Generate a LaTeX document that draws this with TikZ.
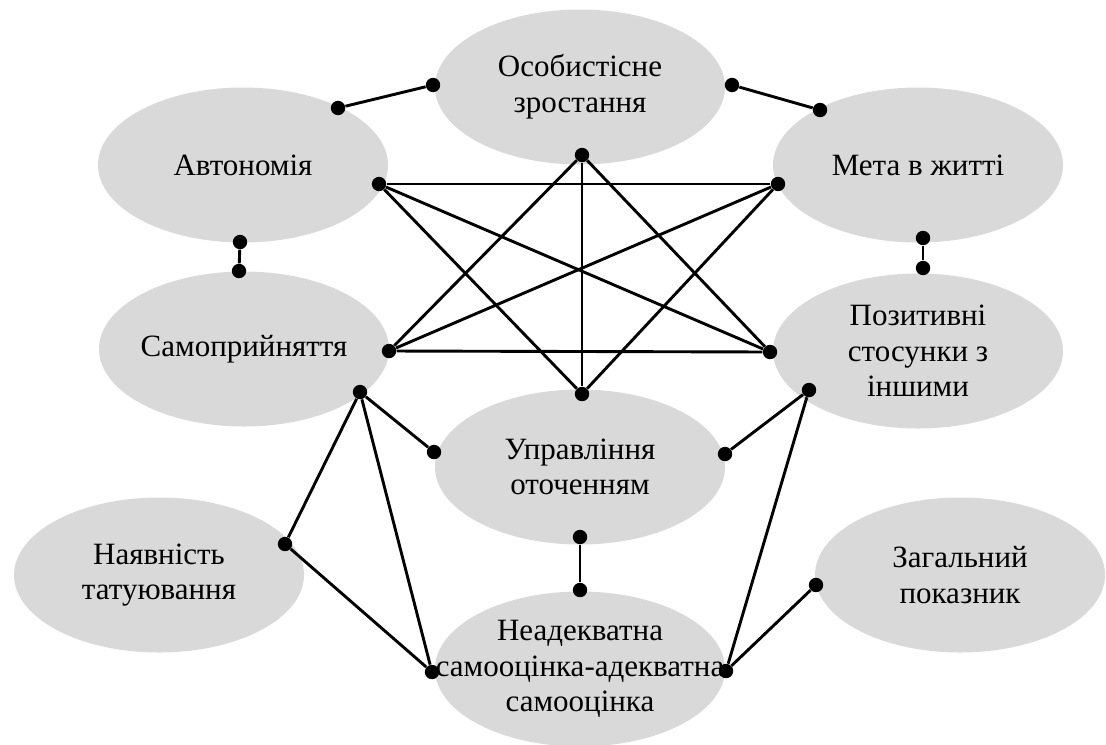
\documentclass[tikz,border=0pt]{standalone}
\usepackage{fontspec}
\setmainfont{Liberation Serif}
\usepackage{tikz}
\usetikzlibrary{shapes}
\definecolor{factorgray}{RGB}{217,217,217}
\newcommand{\factornode}[3]{
  \node[factor] (#1) at (#2) {};
  \node[factortext] (#1-t) at (#1) {#3};
}
\tikzset{
factor/.style={
  ellipse,
  fill=factorgray,
  inner sep=0pt,
  minimum width=145pt,
  minimum height=77.5pt
  }
}
\tikzset{
factortext/.style={
  align=center,
  inner sep=0pt,
  font=\fontsize{15.5pt}{17.8pt}\selectfont
  }
}
\tikzset{
dot/.style={
  circle,
  fill=black,
  inner sep=0pt,
  minimum size=7.2pt
  }
}
\tikzstyle{link} = [draw,line width=1.45pt]

\begin{document}
\begin{tikzpicture}[x=0.5pt, y=-0.5pt]
        \useasboundingbox (0,0) rectangle (1106,744);
	%factors
	\factornode{osob}{580,87}{Особистісне\\зростання}
	\factornode{avt}{243,165}{Автономія}
	\factornode{meta}{918,165}{Мета в житті}
	\factornode{samo}{244,349}{Самоприйняття}
	\factornode{poz}{918,351}{Позитивні\\стосунки з\\іншими}
	\factornode{upr}{580,467}{Управління\\оточенням}
	\factornode{tatu}{159,575}{Наявність\\татуювання}
	\factornode{zag}{960,575}{Загальний\\показник}
	\factornode{neadek}{580,669}{Неадекватна\\самооцінка-адекватна\\самооцінка}

	%dots
	\node[dot] (avt1) at (338,108) {};
	\node[dot] (avt2) at (240,242) {};
	\node[dot] (avt3) at (379,184) {};
	\node[dot] (osob1) at (433,85) {};
	\node[dot] (osob2) at (732,85) {};
	\node[dot] (osob3) at (582,155) {};
	\node[dot] (meta1) at (820,110) {};
	\node[dot] (meta2) at (923,238) {};
	\node[dot] (meta3) at (778,184) {};
	\node[dot] (samo1) at (239,271) {};
	\node[dot] (samo2) at (389,351) {};
	\node[dot] (samo3) at (360,392) {};
	\node[dot] (poz1) at (923,268) {};
	\node[dot] (poz2) at (770,352) {};
	\node[dot] (poz3) at (809,390) {};
	\node[dot] (upr1) at (582,394) {};
	\node[dot] (upr2) at (434,452) {};
	\node[dot] (upr3) at (725,454) {};
	\node[dot] (upr4) at (580,537) {};
	\node[dot] (tatu1) at (285,544) {};
	\node[dot] (neadek1) at (432,672) {};
	\node[dot] (neadek2) at (580,590) {};
	\node[dot] (neadek3) at (726,671) {};
	\node[dot] (zag1) at (816,585) {};

	%links
	\draw[link] (avt1) -- (osob1);
	\draw[link] (osob2) -- (meta1);
	\draw[link] (avt2) -- (samo1);
	\draw[link] (meta2) -- (poz1);

	\draw[link] (avt3) -- (meta3);
	\draw[link] (avt3) -- (poz2);
	\draw[link] (avt3) -- (upr1);
	\draw[link] (samo2) -- (poz2);
	\draw[link] (samo2) -- (meta3);
	\draw[link] (samo2) -- (osob3);
	\draw[link] (osob3) -- (upr1);
	\draw[link] (osob3) -- (poz2);
	\draw[link] (meta3) -- (upr1);

	\draw[link] (samo3) -- (upr2);
	\draw[link] (samo3) -- (tatu1);
	\draw[link] (samo3) -- (neadek1);
	\draw[link] (tatu1) -- (neadek1);
	\draw[link] (poz3) -- (upr3);
	\draw[link] (poz3) -- (neadek3);
	\draw[link] (upr4) -- (neadek2);
	\draw[link] (neadek3) -- (zag1);
\end{tikzpicture}
\end{document}
